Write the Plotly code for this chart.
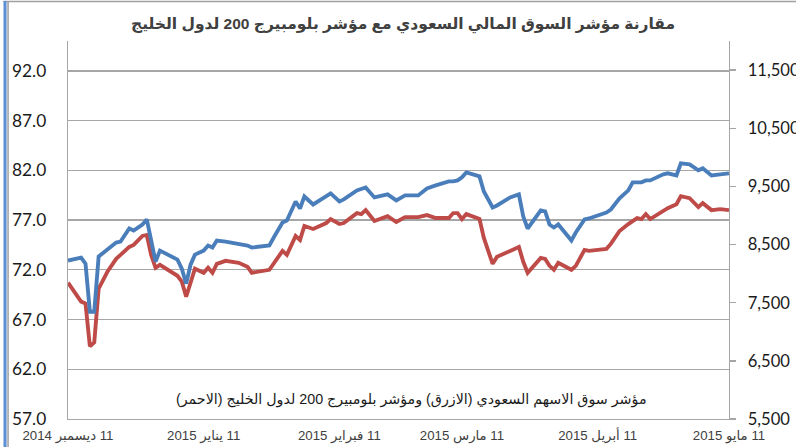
import plotly.graph_objects as go

dates = [
    "2014-12-11", "2014-12-14", "2014-12-15", "2014-12-16", "2014-12-17", "2014-12-18",
    "2014-12-20", "2014-12-22", "2014-12-23", "2014-12-25", "2014-12-26", "2014-12-28",
    "2014-12-29", "2014-12-30", "2014-12-31", "2015-01-01", "2015-01-05", "2015-01-06",
    "2015-01-07", "2015-01-08", "2015-01-09", "2015-01-11", "2015-01-12", "2015-01-13",
    "2015-01-14", "2015-01-16", "2015-01-19", "2015-01-21", "2015-01-22", "2015-01-26",
    "2015-01-27", "2015-01-29", "2015-01-30", "2015-02-01", "2015-02-02", "2015-02-03",
    "2015-02-05", "2015-02-08", "2015-02-09", "2015-02-11", "2015-02-12", "2015-02-15",
    "2015-02-16", "2015-02-17", "2015-02-19", "2015-02-22", "2015-02-24", "2015-02-26",
    "2015-03-01", "2015-03-03", "2015-03-05", "2015-03-08", "2015-03-09", "2015-03-10",
    "2015-03-11", "2015-03-12", "2015-03-15", "2015-03-16", "2015-03-18", "2015-03-19",
    "2015-03-22", "2015-03-24", "2015-03-25", "2015-03-26", "2015-03-29", "2015-03-30",
    "2015-03-31", "2015-04-01", "2015-04-02", "2015-04-05", "2015-04-06", "2015-04-08",
    "2015-04-09", "2015-04-12", "2015-04-13", "2015-04-14", "2015-04-16", "2015-04-18",
    "2015-04-19", "2015-04-20", "2015-04-21", "2015-04-22", "2015-04-23", "2015-04-26",
    "2015-04-27", "2015-04-29", "2015-04-30", "2015-05-02", "2015-05-04", "2015-05-05",
    "2015-05-07", "2015-05-09", "2015-05-11",
]

# Saudi market index (blue, right axis)
tasi = [
    8224, 8276, 8172, 7345, 7345, 8293,
    8414, 8534, 8551, 8776, 8741, 8845,
    8931, 8551, 8207, 8396, 8241, 8086,
    7827, 8155, 8327, 8396, 8483, 8448,
    8569, 8551, 8517, 8483, 8448, 8483,
    8620, 8879, 8914, 9241, 9120, 9327,
    9189, 9345, 9379, 9241, 9276, 9431,
    9465, 9482, 9310, 9362, 9258, 9345,
    9345, 9465, 9517, 9586, 9586, 9603,
    9655, 9741, 9672, 9413, 9138, 9172,
    9310, 9362, 8982, 8776, 9086, 9069,
    8845, 8793, 8845, 8569, 8707, 8931,
    8948, 9034, 9051, 9103, 9293, 9431,
    9569, 9569, 9569, 9603, 9603, 9707,
    9724, 9689, 9896, 9879, 9776, 9810,
    9689, 9707, 9724,
]

# Bloomberg GCC 200 index (red, left axis)
gcc = [
    70.7, 68.8, 68.6, 64.3, 64.7, 70.1,
    71.8, 73.1, 73.5, 74.3, 74.5, 75.4,
    75.5, 73.5, 72.2, 72.5, 71.4, 70.8,
    69.3, 70.8, 72.1, 71.7, 72.2, 71.7,
    72.6, 72.9, 72.7, 72.3, 71.7, 72.0,
    72.6, 73.9, 73.5, 75.4, 75.0, 76.4,
    76.1, 76.7, 77.1, 76.6, 76.7, 77.7,
    77.6, 78.0, 76.9, 77.4, 76.8, 77.3,
    77.3, 77.5, 77.2, 77.2, 77.7, 77.7,
    77.1, 77.6, 77.1, 75.2, 72.6, 73.3,
    73.9, 74.3, 72.8, 71.7, 73.2, 73.1,
    72.4, 72.0, 72.7, 72.0, 72.4, 74.0,
    73.9, 74.1, 74.1, 74.6, 75.9, 76.6,
    76.9, 77.2, 77.1, 77.6, 77.1, 77.9,
    78.2, 78.6, 79.4, 79.2, 78.3, 78.7,
    78.0, 78.1, 78.0,
]

x_tick_dates = ["2014-12-11", "2015-01-11", "2015-02-11", "2015-03-11", "2015-04-11", "2015-05-11"]
x_tick_text = [
    "\u200f11 ديسمبر 2014",
    "\u200f11 يناير 2015",
    "\u200f11 فبراير 2015",
    "\u200f11 مارس 2015",
    "\u200f11 أبريل 2015",
    "\u200f11 مايو 2015",
]
left_ticks = [57, 62, 67, 72, 77, 82, 87, 92]
right_ticks = [5500, 6500, 7500, 8500, 9500, 10500, 11500]

title_text = "مقارنة مؤشر السوق المالي السعودي مع مؤشر بلومبيرج 200 لدول الخليج"
note_text = "\u200fمؤشر سوق الاسهم السعودي (الازرق) ومؤشر بلومبيرج 200 لدول الخليج (الاحمر)\u200f"

# Geometry designed in target pixels; the page viewport is ~2% larger than
# the photographed image, so every pixel size is scaled by K.
W, H = 796, 447
K = 812 / 796
ML, MR, MT, MB = 64, 76, 40, 30
PW, PH = W - ML - MR, H - MT - MB

def s(v):
    return v * K

def si(v):
    return int(round(v * K))

def px_x(px):
    return (px - ML) / PW

def px_y(py):
    return (H - MB - py) / PH

GRID = "#a6a6a6"
BLUE = "#4a7ebb"
RED = "#be4b48"
NUM_FONT = "Lato, Carlito, sans-serif"
AR_FONT = "Liberation Sans, Arial, DejaVu Sans"

fig = go.Figure()
fig.add_trace(go.Scatter(x=dates, y=gcc, mode="lines", yaxis="y",
                         line=dict(color=RED, width=s(3.8)), showlegend=False,
                         name="Bloomberg GCC 200"))
fig.add_trace(go.Scatter(x=dates, y=tasi, mode="lines", yaxis="y2",
                         line=dict(color=BLUE, width=s(3.8)), showlegend=False,
                         name="TASI"))

fig.update_layout(
    width=si(W), height=si(H),
    margin=dict(l=s(ML), r=s(MR), t=s(MT), b=s(MB), pad=0),
    paper_bgcolor="white", plot_bgcolor="white",
    hovermode=False, dragmode=False,
    xaxis=dict(
        type="date", range=["2014-12-11", "2015-05-11"],
        tickmode="array", tickvals=x_tick_dates, ticktext=x_tick_text,
        showgrid=False, zeroline=False, showline=True, linecolor=GRID, linewidth=s(1.3),
        ticks="", tickfont=dict(family=AR_FONT, size=s(13), color="#404040"),
        ticklabelstandoff=si(4),
    ),
    yaxis=dict(
        range=[57, 95], tickmode="array", tickvals=left_ticks, tickformat=".1f",
        showgrid=True, gridcolor=GRID, gridwidth=s(1.3), zeroline=False,
        showline=True, linecolor=GRID, linewidth=s(1.3), ticks="",
        tickfont=dict(family=NUM_FONT, size=s(17), color="#1a1a1a"),
        ticklabelstandoff=si(17),
    ),
    yaxis2=dict(
        range=[5500, 12000], overlaying="y", side="right",
        tickmode="array", tickvals=right_ticks, tickformat=",d",
        showgrid=False, zeroline=False, showline=True, linecolor=GRID, linewidth=s(1.3),
        ticks="outside", ticklen=si(6), tickcolor=GRID, tickwidth=s(1.3),
        tickfont=dict(family=NUM_FONT, size=s(16.3), color="#1a1a1a"),
        ticklabelstandoff=si(8),
    ),
    annotations=[
        dict(text="<b>" + title_text + "</b>", xref="paper", yref="paper",
             x=px_x(396), y=px_y(24), xanchor="center", yanchor="middle", showarrow=False,
             font=dict(family=AR_FONT, size=s(15.2), color="#404040")),
        dict(text=note_text, xref="paper", yref="paper",
             x=px_x(405), y=px_y(398), xanchor="center", yanchor="middle", showarrow=False,
             font=dict(family=AR_FONT, size=s(14), color="#1a1a1a")),
    ],
    shapes=[
        dict(type="line", xref="paper", yref="paper", x0=px_x(0), x1=px_x(W), y0=px_y(0.5), y1=px_y(0.5),
             line=dict(color="#a0a0a0", width=s(1.5))),
        dict(type="line", xref="paper", yref="paper", x0=px_x(4.5), x1=px_x(4.5), y0=px_y(0), y1=px_y(H),
             line=dict(color="#a0a0a0", width=s(1.5))),
        dict(type="line", xref="paper", yref="paper", x0=px_x(1.5), x1=px_x(1.5), y0=px_y(0), y1=px_y(H),
             line=dict(color="#5b8fd6", width=s(3))),
    ],
)

post = "document.body.style.margin='0';document.body.style.overflow='hidden';"

fig.write_html("out.html", div_id="chart", post_script=post,
               config={"displayModeBar": False, "staticPlot": True})
